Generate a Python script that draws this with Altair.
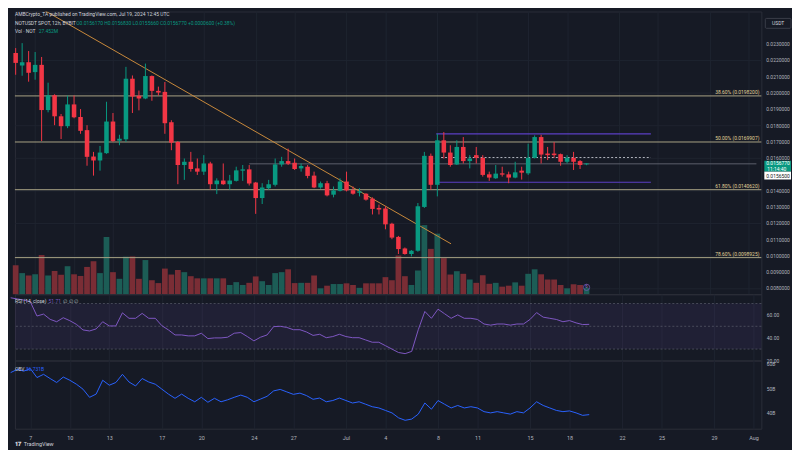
import altair as alt
import numpy as np
import pandas as pd

# ---------------- data ----------------
candle_start = "2024-06-05 12:00"   # 12h candles

opens = [0.022454, 0.021683, 0.021889, 0.021282, 0.021726, 0.018952, 0.019862, 0.018569, 0.017962, 0.019298,
         0.018527, 0.017719, 0.016099, 0.015856, 0.016305, 0.018247, 0.017070, 0.017155, 0.020876, 0.019826,
         0.019662, 0.021040, 0.020129, 0.020068, 0.018205, 0.016991, 0.015577, 0.015777, 0.015370, 0.015170,
         0.015674, 0.014399, 0.014624, 0.014399, 0.014605, 0.015231, 0.015310, 0.014502, 0.013549, 0.014156,
         0.014363, 0.015613, 0.015819, 0.015716, 0.015370, 0.015473, 0.014927, 0.014199, 0.014460, 0.013756,
         0.013998, 0.014563, 0.014035, 0.013877, 0.013816, 0.013513, 0.012942, 0.012906, 0.011971, 0.011164,
         0.010454, 0.010114, 0.010314, 0.013003, 0.016141, 0.014363, 0.017094, 0.016342, 0.015613, 0.016687,
         0.015819, 0.016184, 0.016020, 0.015006, 0.014763, 0.015067, 0.015006, 0.014806, 0.015231, 0.015067,
         0.016020, 0.017294, 0.016281, 0.016281, 0.016244, 0.015777, 0.016020, 0.015819, 0.015617]
highs = [0.022758, 0.023061, 0.022575, 0.022515, 0.022211, 0.020633, 0.019923, 0.018709, 0.019844, 0.019844,
         0.019012, 0.018023, 0.016384, 0.016748, 0.019461, 0.018770, 0.017434, 0.021604, 0.021076, 0.020147,
         0.021805, 0.021076, 0.020390, 0.020675, 0.018327, 0.017050, 0.015977, 0.016384, 0.015977, 0.016184,
         0.015777, 0.014763, 0.015674, 0.014970, 0.015473, 0.015577, 0.015577, 0.014540, 0.014460, 0.014666,
         0.015977, 0.016080, 0.016584, 0.015977, 0.015674, 0.015577, 0.015170, 0.014563, 0.014605, 0.014259,
         0.014763, 0.015170, 0.014259, 0.014156, 0.013853, 0.013592, 0.013149, 0.013045, 0.012032, 0.011224,
         0.010514, 0.010356, 0.013246, 0.016384, 0.016281, 0.017495, 0.017598, 0.016791, 0.017094, 0.017294,
         0.016184, 0.016687, 0.016184, 0.015170, 0.015577, 0.015473, 0.015170, 0.015777, 0.015473, 0.016888,
         0.017398, 0.017434, 0.016687, 0.016991, 0.016281, 0.016184, 0.016384, 0.015880, 0.015683]
lows = [0.021119, 0.021058, 0.020694, 0.020815, 0.017052, 0.018812, 0.018023, 0.017173, 0.017841, 0.018448,
        0.017495, 0.015534, 0.014927, 0.015231, 0.016263, 0.016991, 0.016791, 0.016991, 0.018770, 0.018933,
        0.019619, 0.019522, 0.019844, 0.017495, 0.016487, 0.014399, 0.014666, 0.015170, 0.014970, 0.014970,
        0.014059, 0.013792, 0.014363, 0.014059, 0.014563, 0.014605, 0.014320, 0.012578, 0.013185, 0.014059,
        0.014259, 0.015473, 0.015577, 0.015273, 0.015170, 0.014763, 0.014156, 0.014120, 0.013652, 0.013592,
        0.013956, 0.013956, 0.013756, 0.013652, 0.013391, 0.012542, 0.012542, 0.011631, 0.011024, 0.010114,
        0.010071, 0.009968, 0.010254, 0.012942, 0.014059, 0.013652, 0.015977, 0.015473, 0.015577, 0.015674,
        0.015370, 0.015674, 0.014866, 0.014605, 0.014727, 0.014866, 0.014460, 0.014763, 0.014684, 0.014970,
        0.015977, 0.015674, 0.015880, 0.016020, 0.015534, 0.015674, 0.015273, 0.015334, 0.015566]
closes = [0.021847, 0.021889, 0.021240, 0.021726, 0.018952, 0.019862, 0.018569, 0.017962, 0.019298, 0.018508,
          0.017677, 0.016080, 0.015856, 0.016342, 0.018247, 0.017052, 0.017191, 0.020876, 0.019783, 0.019662,
          0.021040, 0.020129, 0.020026, 0.018144, 0.016949, 0.015577, 0.015777, 0.015334, 0.015170, 0.015674,
          0.014399, 0.014624, 0.014399, 0.014624, 0.015249, 0.015310, 0.014442, 0.013549, 0.014199, 0.014399,
          0.015613, 0.015819, 0.015656, 0.015334, 0.015516, 0.014909, 0.014199, 0.014460, 0.013713, 0.014017,
          0.014563, 0.014017, 0.013816, 0.013956, 0.013452, 0.012882, 0.012845, 0.011935, 0.011121, 0.010417,
          0.010114, 0.010314, 0.013045, 0.016141, 0.014363, 0.017094, 0.016342, 0.015577, 0.016687, 0.015819,
          0.015977, 0.016020, 0.014970, 0.014806, 0.015049, 0.014988, 0.014806, 0.015128, 0.015109, 0.016020,
          0.017294, 0.016220, 0.016184, 0.016184, 0.015777, 0.016020, 0.015777, 0.015577, 0.015677]
volumes_m = [122, 89, 79, 84, 165, 79, 98, 82, 118, 84,
             77, 115, 139, 89, 241, 93, 65, 158, 159, 65,
             144, 59, 47, 108, 83, 102, 93, 76, 67, 67,
             67, 67, 67, 39, 51, 39, 48, 75, 55, 39,
             89, 93, 105, 47, 48, 48, 79, 25, 36, 43,
             43, 46, 39, 27, 46, 46, 46, 72, 59, 163,
             76, 39, 100, 291, 191, 255, 152, 83, 97, 86,
             62, 48, 80, 44, 48, 32, 36, 50, 36, 86,
             105, 84, 62, 62, 39, 25, 42, 39, 27.5]
rsi_vals = [75, 74, 73, 71.4, 59, 60.7, 56.1, 54, 57.5, 54.9,
            51.7, 46.8, 45.9, 47.7, 54, 50.3, 50.3, 61.8, 57, 57,
            61.3, 57, 57, 50.5, 46.8, 42.4, 42.4, 41.6, 41.6, 43.9,
            39.2, 39.8, 39.8, 40.4, 43.9, 44.5, 41, 37.2, 40.4, 42.4,
            49.7, 50, 49, 47, 47, 45, 42, 43, 40, 41,
            43, 41, 40, 40, 38, 36, 36, 33, 30, 27,
            26, 28, 47, 63, 57, 65, 61, 57, 60, 57,
            57, 56, 52, 51, 52, 52, 51, 52, 52, 56,
            62, 58, 57, 56, 54, 55, 53, 51.5, 51.7]
obv_vals = [56.3, 57.6, 56.9, 57.9, 54.3, 55.6, 53.9, 52.3, 54.5, 53.2,
            51.6, 49.6, 46.3, 47.6, 53.2, 51.2, 52.3, 55.6, 52.5, 50.9,
            53.9, 52.5, 51.6, 49.6, 47.6, 45.9, 47.6, 45.9, 44.5, 46.3,
            44.3, 45.9, 44.5, 45.3, 46.3, 47.2, 46.3, 44.5, 45.6, 46.7,
            48.9, 49.5, 48.5, 47.5, 48, 47, 45.5, 46, 44.5, 45,
            46, 45, 44, 44.5, 43.5, 42.5, 42, 41, 40, 38,
            37, 37.5, 39.5, 44, 41.5, 45, 43.5, 42, 43, 42,
            42.5, 42, 40.5, 40, 40.5, 40, 39.5, 40.5, 40, 42,
            44.5, 43, 42, 41, 40.5, 40.8, 40, 39, 39.3]

date_ticks = ["2024-06-07", "2024-06-10", "2024-06-13", "2024-06-17", "2024-06-20", "2024-06-24",
              "2024-06-27", "2024-07-01", "2024-07-04", "2024-07-08", "2024-07-11", "2024-07-15",
              "2024-07-18", "2024-07-22", "2024-07-25", "2024-07-29", "2024-08-01"]
price_ticks = [0.008, 0.009, 0.010, 0.011, 0.012, 0.013, 0.014, 0.015, 0.016, 0.017,
               0.018, 0.019, 0.020, 0.021, 0.022, 0.023]
rsi_ticks = [20, 40, 60]
rsi_levels = [70, 50, 30]
obv_ticks = [40, 50, 60]

fib_levels = [0.01982, 0.0169907, 0.014062, 0.0098925]
fib_labels = ["38.60% (0.0198200)", "50.00% (0.0169907)", "61.80% (0.0140620)", "78.60% (0.0098925)"]

range_prices = [0.017495, 0.014521]
range_times = ["2024-07-07T22:00:00Z", "2024-07-24T11:00:00Z"]
mid_price = 0.016038
mid_times = ["2024-07-08T07:00:00Z", "2024-07-24T11:00:00Z"]
ray_price = 0.01565
ray_times = ["2024-06-23T12:00:00Z", "2024-08-01T14:12:00Z"]
trend_times = ["2024-06-06T19:10:00Z", "2024-07-09T01:20:00Z"]
trend_prices = [0.02549, 0.010739]

x_domain = ["2024-06-05 19:46", "2024-08-01 14:12"]
price_domain = [0.007643, 0.025003]
rsi_domain = [20, 78.1]
obv_domain = [33.6, 61.2]
vol_domain = [0, 1190]

header1 = "AMBCrypto_TA published on TradingView.com, Jul 19, 2024 12:45 UTC"
header2a = "NOTUSDT SPOT, 12h, BYBIT"
header2b = "O0.0156170 H0.0156830 L0.0155660 C0.0156770 +0.0000600 (+0.38%)"
header3a = "Vol · NOT"
header3b = "27.452M"
rsi_title, rsi_value, rsi_extra = "RSI (14, close)", "51.71", "∅ ∅ ∅"
obv_title, obv_value = "OBV", "36.731B"
countdown = "11:14:40"

# ---------------- styling ----------------
W, HM, HR, HO = 755, 286, 67, 69
BG = "#161a25"
GRID = "#1e2330"
TXT = "#b2b5be"
UP, DN = "#089981", "#f23645"
VUP, VDN = "#1c5d56", "#7a2d35"
FIBLINE, FIBTXT = "#a9a385", "#e2d49a"
PURPLE = "#5b3fc4"
ORANGE = "#c98a3c"
RSIC = "#7e57c2"
OBVC = "#2962ff"
FONT = "Roboto"
FS = 5

# ---------------- frames ----------------
times = pd.date_range(candle_start, periods=len(opens), freq="12h").strftime("%Y-%m-%dT%H:%M:%SZ")
df = pd.DataFrame({"t": times, "o": opens, "h": highs, "l": lows, "c": closes,
                   "v": volumes_m, "rsi": rsi_vals, "obv": obv_vals})
df["dir"] = np.where(df["c"] >= df["o"], "up", "down")
one = pd.DataFrame({"k": [0]})


def dt(s):
    ts = pd.Timestamp(s)
    return alt.DateTime(year=ts.year, month=ts.month, date=ts.day,
                        hours=ts.hour, minutes=ts.minute, utc=True)


x_scale = alt.Scale(type="utc", domain=[dt(x_domain[0]), dt(x_domain[1])])
tick_vals = [dt(d) for d in date_ticks]
grid_axis = alt.Axis(values=tick_vals, labels=False, ticks=False, domain=False, grid=True,
                     gridColor=GRID, title=None)
bottom_axis = alt.Axis(values=tick_vals, ticks=False, domain=False, grid=True, gridColor=GRID,
                       labelExpr="utcdate(datum.value) == 1 ? utcFormat(datum.value, '%b') : utcFormat(datum.value, '%-d')",
                       labelColor=TXT, labelFontSize=5.5, labelFont=FONT, labelPadding=7,
                       labelFlush=False, labelOverlap=False, title=None)
XG = alt.X("t:T", scale=x_scale, axis=grid_axis, title=None)

price_scale = alt.Scale(domain=price_domain, nice=False, zero=False)
price_axis = alt.Axis(orient="right", values=price_ticks, labels=False, ticks=False, domain=False,
                      grid=True, gridColor=GRID, title=None, zindex=0)
cscale = alt.Scale(domain=["up", "down"], range=[UP, DN])


def PY(field):
    return alt.Y(field, scale=price_scale, axis=price_axis, title=None)


def label(s, x, y, color=TXT, size=FS, align="left", baseline="middle", weight="normal"):
    return alt.Chart(one).mark_text(text=s, align=align, baseline=baseline, fontSize=size,
                                    font=FONT, color=color, fontWeight=weight).encode(
        x=alt.value(x), y=alt.value(y))


# ---- main pane ----
vol = alt.Chart(df).mark_bar(size=5.8).encode(
    x=XG,
    y=alt.Y("v:Q", scale=alt.Scale(domain=vol_domain, nice=False), axis=None),
    color=alt.Color("dir:N", scale=alt.Scale(domain=["up", "down"], range=[VUP, VDN]), legend=None),
)

# price-axis labels, placed through the price scale
ptick_df = pd.DataFrame({"p": price_ticks})
ptick_txt = alt.Chart(ptick_df).transform_calculate(
    lab="format(datum.p, '.7f')").mark_text(
    align="left", baseline="middle", fontSize=FS, font=FONT, color=TXT).encode(
    x=alt.value(W + 5), y=PY("p:Q"), text="lab:N")

fib_df = pd.DataFrame({"p": fib_levels, "label": fib_labels})
fib = alt.Chart(fib_df).mark_rule(color=FIBLINE, strokeWidth=1).encode(y=PY("p:Q"))
fib_txt = alt.Chart(fib_df).mark_text(align="right", baseline="bottom", dy=-1, fontSize=FS,
                                      font=FONT, color=FIBTXT).encode(
    x=alt.value(W - 2), y=PY("p:Q"), text="label:N")

ray_df = pd.DataFrame({"ts": [ray_times[0]], "te": [ray_times[1]], "p": [ray_price]})
ray = alt.Chart(ray_df).mark_rule(color="#5d606b", strokeWidth=1).encode(
    x=alt.X("ts:T", scale=x_scale, axis=grid_axis, title=None), x2="te:T", y=PY("p:Q"))

rng_df = pd.DataFrame({"ts": [range_times[0]] * 2, "te": [range_times[1]] * 2, "p": range_prices})
rng = alt.Chart(rng_df).mark_rule(color=PURPLE, strokeWidth=1.2).encode(
    x=alt.X("ts:T", scale=x_scale, axis=grid_axis, title=None), x2="te:T", y=PY("p:Q"))
mid_df = pd.DataFrame({"ts": [mid_times[0]], "te": [mid_times[1]], "p": [mid_price]})
mid = alt.Chart(mid_df).mark_rule(color="#b2b5be", strokeWidth=1, strokeDash=[2, 2]).encode(
    x=alt.X("ts:T", scale=x_scale, axis=grid_axis, title=None), x2="te:T", y=PY("p:Q"))

trend_df = pd.DataFrame({"t": trend_times, "p": trend_prices})
trend = alt.Chart(trend_df).mark_line(color=ORANGE, strokeWidth=1, clip=True).encode(
    x=alt.X("t:T", scale=x_scale, axis=grid_axis, title=None), y=PY("p:Q"))

wick = alt.Chart(df).mark_rule(strokeWidth=1).encode(
    x=XG, y=PY("l:Q"), y2="h:Q", color=alt.Color("dir:N", scale=cscale, legend=None))
body = alt.Chart(df).mark_bar(size=4.6).encode(
    x=XG, y=PY("o:Q"), y2="c:Q", color=alt.Color("dir:N", scale=cscale, legend=None))

# price tags on the axis
last_close = closes[-1]
px = (price_domain[1] - price_domain[0]) / HM
tag_df = pd.DataFrame({
    "y1": [last_close + 2.7 * px, last_close - 8.3 * px],
    "y2": [last_close - 8.3 * px, last_close - 16.3 * px],
    "fill": [UP, "#ffffff"],
})
tags = alt.Chart(tag_df).mark_rect().encode(
    x=alt.value(W + 3), x2=alt.value(W + 30), y=PY("y1:Q"), y2="y2:Q",
    color=alt.Color("fill:N", scale=None))
tag_t1 = alt.Chart(one).mark_text(text=f"{last_close:.7f}", align="left", baseline="middle",
                                  fontSize=FS, font=FONT, color="#ffffff").encode(
    x=alt.value(W + 5), y=alt.datum(last_close, scale=price_scale))
tag_t2 = alt.Chart(one).mark_text(text=countdown, align="left", baseline="middle", dy=5.5,
                                  fontSize=FS, font=FONT, color="#ffffff").encode(
    x=alt.value(W + 6), y=alt.datum(last_close))
tag_t3 = alt.Chart(one).mark_text(text=f"{ray_price:.7f}", align="left", baseline="middle", dy=12.3,
                                  fontSize=FS, font=FONT, color="#131722").encode(
    x=alt.value(W + 5), y=alt.datum(last_close))

usdt_box = alt.Chart(one).mark_rect(fill=BG, stroke="#434651", strokeWidth=0.8, cornerRadius=1).encode(
    x=alt.value(W + 4), x2=alt.value(W + 30), y=alt.value(7), y2=alt.value(17))
usdt_txt = label("USDT", W + 17, 12, color="#d1d4dc", align="center")

# small event marker on the last volume bar
event_df = pd.DataFrame({"t": [times[-1]]})
event = alt.Chart(event_df).mark_point(shape="circle", size=40, color="#7e57c2", strokeWidth=1,
                                       filled=False).encode(
    x=alt.X("t:T", scale=x_scale, axis=grid_axis, title=None), y=alt.value(HM - 7))
event_txt = alt.Chart(event_df).mark_text(text="6", fontSize=4.5, font=FONT, color="#9575cd",
                                          baseline="middle").encode(
    x=alt.X("t:T", scale=x_scale, axis=grid_axis, title=None), y=alt.value(HM - 7))

header = alt.layer(
    label(header1, 0, 3, color="#d1d4dc"),
    label(header2a, 0, 11.5, color="#d1d4dc"),
    label(header2b, 62, 11.5, color=UP),
    label(header3a, 0, 19.5, color="#d1d4dc"),
    label(header3b, 24, 19.5, color=UP),
)

price_group = alt.layer(fib, fib_txt, ray, rng, mid, trend, wick, body, ptick_txt, tags,
                        tag_t1, tag_t2, tag_t3, usdt_box, usdt_txt, header)
main = alt.layer(vol, event, event_txt, price_group).resolve_scale(
    y="independent", color="independent").properties(width=W, height=HM)

# ---- RSI pane ----
rsi_scale = alt.Scale(domain=rsi_domain, nice=False, zero=False)
rsi_axis = alt.Axis(orient="right", values=rsi_ticks, format=".2f", ticks=False, domain=False,
                    grid=False, labelColor=TXT, labelFontSize=FS, labelFont=FONT, labelPadding=5,
                    labelFlush=False, labelOverlap=False, title=None)
band = alt.Chart(pd.DataFrame({"lo": [rsi_levels[2]], "hi": [rsi_levels[0]]})).mark_rect(
    color=RSIC, opacity=0.1).encode(
    x=alt.value(0), x2=alt.value(W),
    y=alt.Y("lo:Q", scale=rsi_scale, axis=rsi_axis, title=None), y2="hi:Q")
lev = alt.Chart(pd.DataFrame({"r": rsi_levels})).mark_rule(
    color="#787b86", strokeDash=[2, 2], strokeWidth=0.8, opacity=0.6).encode(
    y=alt.Y("r:Q", scale=rsi_scale, axis=rsi_axis, title=None))
rsi_line = alt.Chart(df).mark_line(color=RSIC, strokeWidth=1).encode(
    x=XG, y=alt.Y("rsi:Q", scale=rsi_scale, axis=rsi_axis, title=None))
rsi = alt.layer(
    band, lev, rsi_line,
    label(rsi_title, 0, 7, color="#d1d4dc"),
    label(rsi_value, 34, 7, color=RSIC),
    label(rsi_extra, 49, 7, color=TXT),
).properties(width=W, height=HR)

# ---- OBV pane ----
obv_scale = alt.Scale(domain=obv_domain, nice=False, zero=False)
obv_axis = alt.Axis(orient="right", values=obv_ticks, labelExpr="datum.value + 'B'", ticks=False,
                    domain=False, grid=False, labelColor=TXT, labelFontSize=FS, labelFont=FONT,
                    labelPadding=5, labelFlush=False, labelOverlap=False, title=None)
obv_line = alt.Chart(df).mark_line(color=OBVC, strokeWidth=1).encode(
    x=alt.X("t:T", scale=x_scale, axis=bottom_axis, title=None),
    y=alt.Y("obv:Q", scale=obv_scale, axis=obv_axis, title=None))
obv = alt.layer(
    obv_line,
    label(obv_title, 0, 9, color="#d1d4dc"),
    label(obv_value, 11, 9, color=OBVC),
    label("𝟏𝟕", 0, 84, color="#d1d4dc", size=6, weight="bold"),
    label("TradingView", 9, 84, color="#d1d4dc", size=5.5),
).properties(width=W, height=HO)

chart = alt.vconcat(main, rsi, obv, spacing=0, bounds="flush").properties(
    background=BG, padding=0
).configure_view(stroke="#2a2e39", strokeWidth=1)

chart.save("out.html", embed_options={"renderer": "svg", "actions": False})
